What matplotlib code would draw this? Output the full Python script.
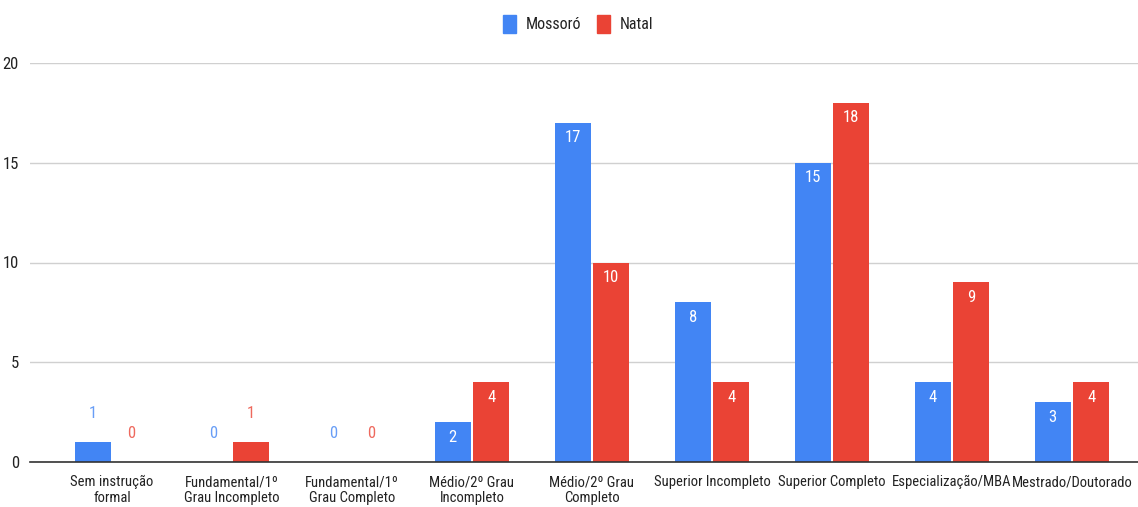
import matplotlib
matplotlib.use("Agg")
import matplotlib.pyplot as plt
from matplotlib.patches import Patch
import numpy as np

categories = [
    "Sem instrução\nformal",
    "Fundamental/1º\nGrau Incompleto",
    "Fundamental/1º\nGrau Completo",
    "Médio/2º Grau\nIncompleto",
    "Médio/2º Grau\nCompleto",
    "Superior Incompleto",
    "Superior Completo",
    "Especialização/MBA",
    "Mestrado/Doutorado",
]
mossoro = [1, 0, 0, 2, 17, 8, 15, 4, 3]
natal = [0, 1, 0, 4, 10, 4, 18, 9, 4]
series_names = ["Mossoró", "Natal"]
yticks = [0, 5, 10, 15, 20]

BLUE = "#4285F4"
RED = "#EA4335"

plt.rcParams["font.family"] = ["Roboto Condensed", "Roboto", "DejaVu Sans"]

fig = plt.figure(figsize=(11.38, 5.07), dpi=100)
ax = fig.add_axes([30 / 1138, 1 - 462 / 507, 1 - 30 / 1138, (462 - 63) / 507])

x = np.arange(len(categories))
w = 0.3
off = 0.16

for vals, color, dx in ((mossoro, BLUE, -off), (natal, RED, off)):
    ax.bar(x + dx, vals, width=w, color=color, zorder=3)
    for xi, v in zip(x + dx, vals):
        if v >= 2:
            ax.text(xi, v - 0.75, str(v), ha="center", va="center",
                    color="white", fontsize=12, zorder=4)
        else:
            ax.text(xi, v + 1.45, str(v), ha="center", va="center",
                    color=color, fontsize=12, alpha=0.8, zorder=4)

ax.set_xlim(-0.683, 8.55)
ax.set_ylim(0, 20)
ax.set_yticks(yticks)
ax.set_yticklabels([str(t) for t in yticks], fontsize=12, color="#222222")
ax.set_xticks(x)
ax.set_xticklabels(categories, fontsize=10.5, color="#222222", linespacing=1.12)
ax.tick_params(axis="both", length=0)
ax.tick_params(axis="y", pad=8)
ax.tick_params(axis="x", pad=9.5)
ax.grid(axis="y", color="#d0d0d0", linewidth=1, zorder=0)
for s in ("top", "right", "left"):
    ax.spines[s].set_visible(False)
ax.spines["bottom"].set_color("#333333")
ax.spines["bottom"].set_linewidth(1.2)
ax.spines["bottom"].set_zorder(5)

handles = [Patch(facecolor=BLUE, edgecolor=BLUE), Patch(facecolor=RED, edgecolor=RED)]
leg = fig.legend(handles, series_names, loc="center", bbox_to_anchor=(578 / 1138, 1 - 24 / 507),
                 ncol=2, frameon=False, fontsize=11.5, handlelength=0.8, handleheight=1.3,
                 handletextpad=0.6, columnspacing=1.0)
for t in leg.get_texts():
    t.set_color("#222222")

fig.savefig("out.png", dpi=100)
